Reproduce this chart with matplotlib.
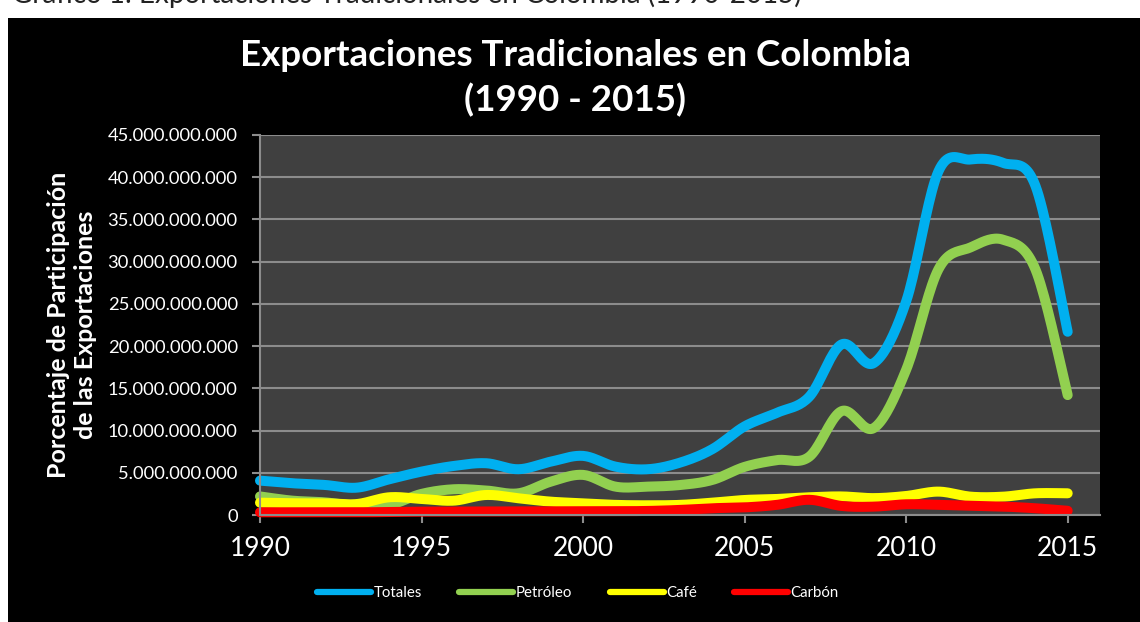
import numpy as np
import matplotlib
matplotlib.use("Agg")
import matplotlib.pyplot as plt
from matplotlib.ticker import FuncFormatter, MultipleLocator
from matplotlib.patches import Rectangle

years = list(range(1990, 2016))

# exportaciones en dolares (en miles de millones)
totales = [4.07, 3.76, 3.56, 3.24, 4.23, 5.14, 5.81, 6.13, 5.42, 6.32, 7.0, 5.73, 5.42,
           6.2, 7.8, 10.5, 12.1, 14.0, 20.2, 18.0, 25.3, 40.7, 42.1, 41.7, 39.0, 21.7]
petroleo = [2.2, 1.7, 1.5, 1.1, 1.2, 2.5, 3.05, 2.9, 2.57, 3.95, 4.75, 3.36, 3.36,
            3.55, 4.15, 5.7, 6.5, 6.9, 12.3, 10.3, 17.2, 29.1, 31.7, 32.6, 29.1, 14.2]
cafe = [1.46, 1.39, 1.39, 1.3, 2.1, 1.9, 1.7, 2.37, 1.98, 1.58, 1.39, 1.2, 1.15,
        1.2, 1.46, 1.78, 1.9, 2.1, 2.2, 2.0, 2.25, 2.77, 2.17, 2.17, 2.57, 2.57]
carbon = [0.32, 0.32, 0.32, 0.32, 0.35, 0.4, 0.4, 0.42, 0.42, 0.42, 0.45, 0.45, 0.48,
          0.6, 0.8, 0.9, 1.2, 1.8, 1.07, 0.99, 1.27, 1.2, 1.1, 1.0, 0.8, 0.5]

series = [("Totales", totales, "#00b0f0"),
          ("Petróleo", petroleo, "#92d050"),
          ("Café", cafe, "#ffff00"),
          ("Carbón", carbon, "#ff0000")]

FONT = ["Lato", "DejaVu Sans"]
plt.rcParams["font.family"] = FONT


def smooth(x, y, n=20):
    # curva suavizada tipo Excel (Catmull-Rom)
    x = np.asarray(x, float)
    y = np.asarray(y, float)
    px = np.concatenate([[x[0]], x, [x[-1]]])
    py = np.concatenate([[y[0]], y, [y[-1]]])
    xs, ys = [], []
    t = np.linspace(0, 1, n, endpoint=False)
    for i in range(1, len(px) - 2):
        p0, p1, p2, p3 = px[i-1], px[i], px[i+1], px[i+2]
        q0, q1, q2, q3 = py[i-1], py[i], py[i+1], py[i+2]
        bx = [p1, p1 + (p2 - p0) / 6, p2 - (p3 - p1) / 6, p2]
        by = [q1, q1 + (q2 - q0) / 6, q2 - (q3 - q1) / 6, q2]
        for b, out in ((bx, xs), (by, ys)):
            out.extend((1-t)**3*b[0] + 3*(1-t)**2*t*b[1] + 3*(1-t)*t**2*b[2] + t**3*b[3])
    xs.append(x[-1])
    ys.append(y[-1])
    return np.array(xs), np.array(ys)


W, H = 1140, 622
fig = plt.figure(figsize=(W/100, H/100), dpi=100, facecolor="white")
fig.patches.append(Rectangle((8/W, 0), 1, 1 - 18/H, transform=fig.transFigure,
                             facecolor="black", edgecolor="none", zorder=-10))
# leyenda del documento, cortada arriba como en el original
fig.text(12/W, 1 - 2.5/H, "Gráfico 1: Exportaciones Tradicionales en Colombia (1990-2015)",
         fontsize=20, color="#222222", va="baseline", ha="left")

ax = fig.add_axes([260/W, 107/H, 840/W, 380/H])
ax.set_facecolor("#404040")

for name, vals, col in series:
    sx, sy = smooth(years, np.array(vals) * 1e9)
    ax.plot(sx, sy, color=col, lw=7.2, solid_capstyle="round", label=name,
            clip_on=False)

ax.set_xlim(1990, 2016)
ax.set_ylim(0, 45e9)
ax.set_xticks([1990, 1995, 2000, 2005, 2010, 2015])
ax.yaxis.set_major_locator(MultipleLocator(5e9))
ax.yaxis.set_major_formatter(FuncFormatter(lambda v, p: f"{int(round(v)):,}".replace(",", ".")))
ax.grid(axis="y", color="#8c8c8c", lw=1.5)
ax.set_axisbelow(True)

for s in ["top", "right"]:
    ax.spines[s].set_visible(False)
for s in ["left", "bottom"]:
    ax.spines[s].set_color("#8c8c8c")
    ax.spines[s].set_linewidth(1.5)
ax.tick_params(axis="y", colors="#8c8c8c", labelcolor="white", labelsize=13.2, length=6, width=1.5, pad=10)
ax.tick_params(axis="x", colors="#8c8c8c", labelcolor="white", labelsize=19, length=6, width=1.5, pad=9)

fig.text(575/W, 1 - 55/H, "Exportaciones Tradicionales en Colombia", color="white",
         fontsize=26.5, fontweight="bold", ha="center", va="center")
fig.text(575/W, 1 - 100/H, "(1990 - 2015)", color="white",
         fontsize=26.5, fontweight="bold", ha="center", va="center")

fig.text(72/W, 1 - 325/H, "Porcentaje de Participación\nde las Exportaciones", color="white",
         fontsize=18, fontweight="bold", rotation=90, ha="center", va="center",
         multialignment="center", linespacing=1.2)

leg = fig.legend(loc="center", bbox_to_anchor=(578/W, 1 - 593/H), ncol=4,
                 frameon=False, fontsize=10.8, labelcolor="white", handlelength=3.6,
                 handletextpad=0.15, columnspacing=2.5)
for h in leg.get_lines():
    h.set_linewidth(4.5)
    h.set_solid_capstyle("round")

fig.savefig("out.png", dpi=100, facecolor=fig.get_facecolor())
